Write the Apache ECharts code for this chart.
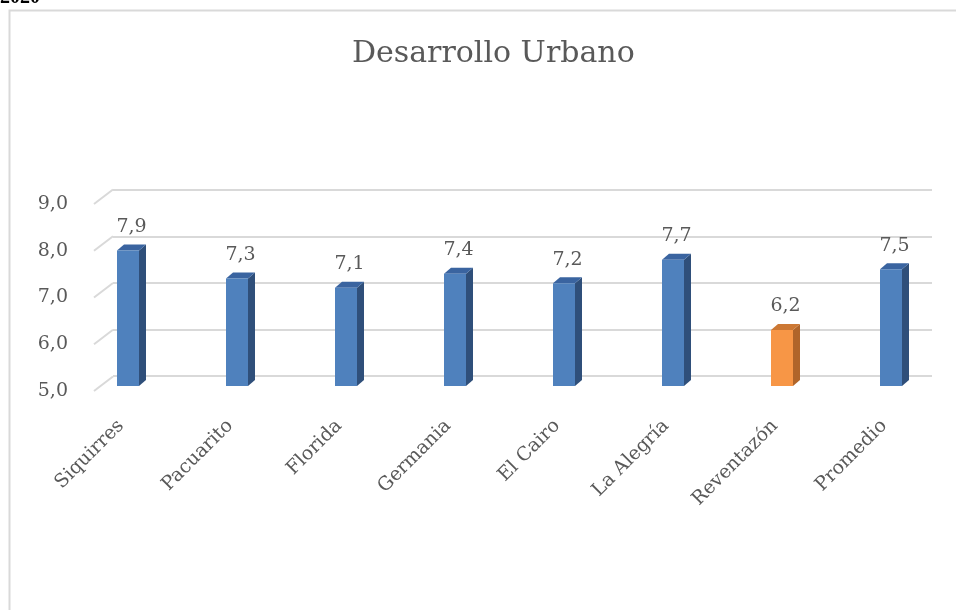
<!DOCTYPE html>
<html>
<head>
<meta charset="utf-8">
<script src="https://cdn.jsdelivr.net/npm/echarts@6/dist/echarts.min.js"></script>
<style>html,body{margin:0;padding:0;background:#fff}#chart{width:956px;height:610px}</style>
</head>
<body>
<div id="chart"></div>
<script>
// Desarrollo Urbano por distrito (columnas 3D estilo Excel)
var categorias = ['Siquirres', 'Pacuarito', 'Florida', 'Germania', 'El Cairo', 'La Alegría', 'Reventazón', 'Promedio'];
var valores = [7.9, 7.3, 7.1, 7.4, 7.2, 7.7, 6.2, 7.5];
var marcas = [5, 6, 7, 8, 9];

var fuente = 'DejaVu Serif';
var gris = '#595959';
var linea = '#d9d9d9';
function coma(v) { return v.toFixed(1).replace('.', ','); }

function ejeY(extra) {
    var eje = {
        type: 'value', min: 5, max: 9, interval: 1,
        axisLine: {show: false}, axisTick: {show: false},
        axisLabel: {show: false}, splitLine: {show: false}
    };
    for (var k in extra) eje[k] = extra[k];
    return eje;
}
function ejeX(extra) {
    var eje = {
        type: 'category', data: categorias,
        axisLine: {show: false}, axisTick: {show: false},
        axisLabel: {show: false}, splitLine: {show: false}
    };
    for (var k in extra) eje[k] = extra[k];
    return eje;
}

var chartBarras3d = {
    animation: false,
    title: {
        text: 'Desarrollo Urbano',
        left: 347,
        top: 34,
        textStyle: {fontFamily: fuente, fontSize: 30, fontWeight: 'normal', color: gris}
    },
    graphic: [
        {type: 'rect', shape: {x: 9.5, y: 10.5, width: 1000, height: 700},
         style: {fill: 'none', stroke: linea, lineWidth: 2}, silent: true},
        {type: 'text', left: 0, top: -12,
         style: {text: '2020', font: 'bold 20px "Liberation Serif"', fill: '#000'}}
    ],
    grid: [
        {left: 94, top: 204, width: 819, height: 187},     // frente: etiquetas eje Y
        {left: 113, top: 190, width: 819, height: 186},    // pared del fondo
        {left: 73.5, top: 199, width: 872, height: 187},   // columnas
        {left: 66.5, top: 204, width: 872, height: 187}    // etiquetas categorias
    ],
    xAxis: [
        ejeX({gridIndex: 0}),
        ejeX({gridIndex: 1}),
        ejeX({gridIndex: 2}),
        ejeX({gridIndex: 3, axisLabel: {show: true, interval: 0, rotate: 45, margin: 32,
            fontFamily: fuente, fontSize: 19, color: gris}})
    ],
    yAxis: [
        ejeY({gridIndex: 0, axisLabel: {show: true, margin: 26, fontFamily: fuente, fontSize: 19,
            color: gris, formatter: function (v) { return coma(v); }}}),
        ejeY({gridIndex: 1, splitLine: {show: true, lineStyle: {color: linea, width: 2}}}),
        ejeY({gridIndex: 2}),
        ejeY({gridIndex: 3})
    ],
    series: [
        {
            // diagonales del piso lateral
            type: 'custom',
            xAxisIndex: 0, yAxisIndex: 0,
            silent: true,
            data: marcas.map(function (t) { return [0, t]; }),
            renderItem: function (params, api) {
                var p = api.coord([0, api.value(1)]);
                var x0 = params.coordSys.x;
                return {
                    type: 'line',
                    shape: {x1: x0, y1: p[1], x2: x0 + 19, y2: p[1] - 14.5},
                    style: {stroke: linea, lineWidth: 2}
                };
            }
        },
        {
            type: 'custom',
            xAxisIndex: 2, yAxisIndex: 2,
            data: valores.map(function (v, i) { return [i, v]; }),
            renderItem: function (params, api) {
                var i = api.value(0), v = api.value(1);
                var base = api.coord([i, 5]), tope = api.coord([i, v]);
                var cx = tope[0], w = 11, dx = 7, dy = 6;
                var c = categorias[i] === 'Reventazón'
                    ? ['#f79646', '#b0652a', '#cc7834']
                    : ['#4f81bd', '#2f4f7a', '#3a64a0'];
                return {
                    type: 'group',
                    children: [
                        {type: 'polygon', shape: {points: [[cx + w, tope[1]], [cx + w + dx, tope[1] - dy], [cx + w + dx, base[1] - dy], [cx + w, base[1]]]},
                         style: {fill: c[1]}},
                        {type: 'polygon', shape: {points: [[cx - w, tope[1]], [cx - w + dx, tope[1] - dy], [cx + w + dx, tope[1] - dy], [cx + w, tope[1]]]},
                         style: {fill: c[2]}},
                        {type: 'rect', shape: {x: cx - w, y: tope[1], width: 2 * w, height: base[1] - tope[1]},
                         style: {fill: c[0]}},
                        {type: 'text', x: cx + dx / 2, y: tope[1] - dy - 8,
                         style: {text: coma(v), fill: gris, font: '19px "DejaVu Serif"', align: 'center', verticalAlign: 'bottom'}}
                    ]
                };
            }
        }
    ]
};

var myChartBarras = echarts.init(document.getElementById('chart'));
myChartBarras.setOption(chartBarras3d);
</script>
</body>
</html>
